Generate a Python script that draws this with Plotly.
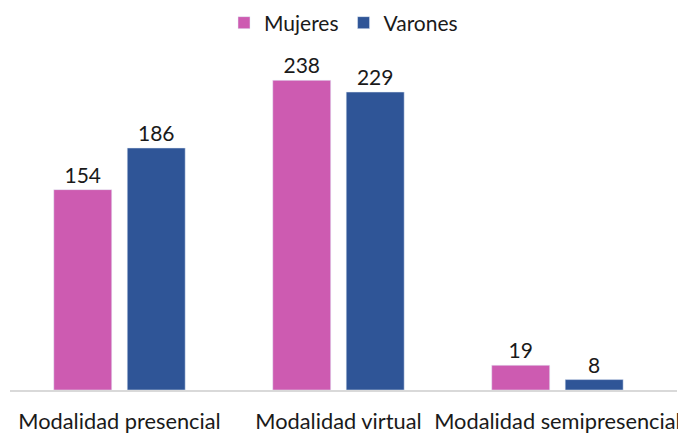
import plotly.graph_objects as go

categories = ["Modalidad presencial", "Modalidad virtual", "Modalidad semipresencial"]
mujeres = [154, 238, 19]
varones = [186, 229, 8]

FONT = "Lato, Open Sans, sans-serif"
fig = go.Figure()
fig.add_bar(name="Mujeres", x=categories, y=mujeres, marker_color="#CD5BB1",
            text=mujeres, textposition="outside", cliponaxis=False,
            textfont=dict(size=21, color="#1a1a1a", family=FONT))
fig.add_bar(name="Varones", x=categories, y=varones, marker_color="#2F5597",
            text=varones, textposition="outside", cliponaxis=False,
            textfont=dict(size=21, color="#1a1a1a", family=FONT))

fig.update_layout(
    width=678, height=427,
    margin=dict(l=2, r=9, t=32, b=45, autoexpand=False),
    paper_bgcolor="white", plot_bgcolor="white",
    barmode="group", bargap=0.329, bargroupgap=0.211,
    font=dict(family=FONT, size=22, color="#1a1a1a"),
    legend=dict(orientation="h", x=0.5, xanchor="center", y=1.0486, yanchor="middle",
                font=dict(size=21), itemwidth=30, traceorder="normal"),
    xaxis=dict(range=[-0.5, 2.546], showline=True, linecolor="#d9d9d9", linewidth=2,
               ticks="", tickfont=dict(size=21.8), tickangle=0, showgrid=False,
               automargin=False, ticklabelstandoff=11),
    yaxis=dict(range=[0, 269], showticklabels=False, showgrid=False, zeroline=False,
               showline=False),
    showlegend=True,
)
fig.write_html("out.html")
